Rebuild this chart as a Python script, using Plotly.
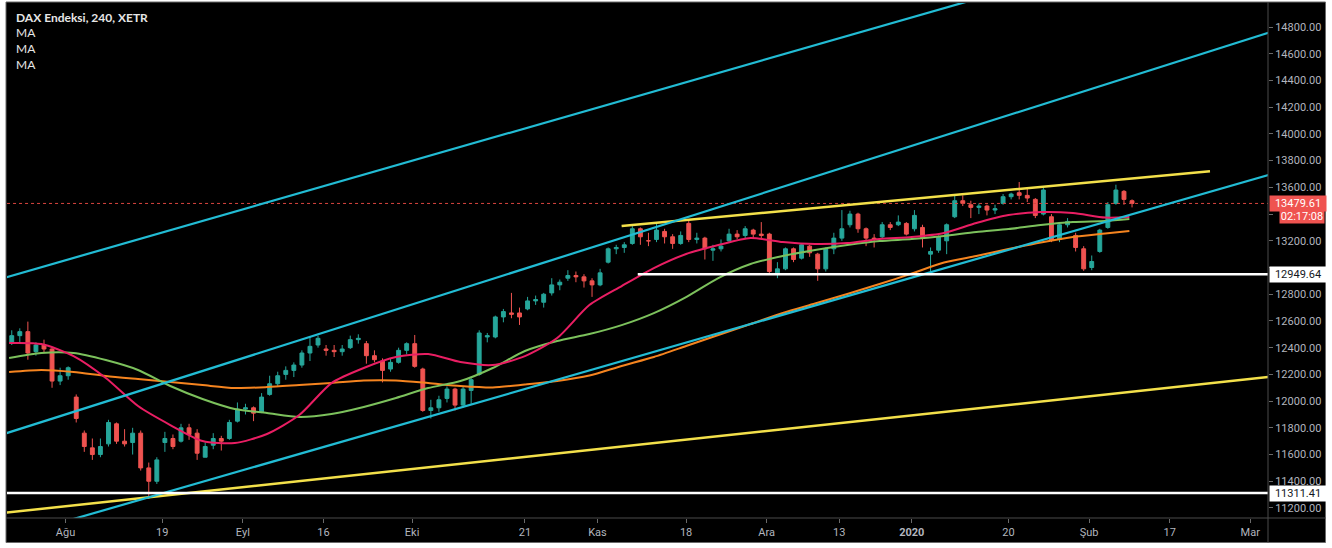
import pandas as pd
import plotly.graph_objects as go

# ------------------------------------------------------------------ data
HOLIDAYS = ["2019-12-24", "2019-12-25", "2019-12-26", "2019-12-31", "2020-01-01"]
FIRST_BAR, LAST_BAR = "2019-07-23", "2020-02-10"

candle_open = [
    12440, 12490, 12520, 12370, 12420, 12390, 12150, 12190, 12030, 11760,
    11650, 11600, 11680, 11830, 11700, 11690, 11760, 11500, 11400, 11690,
    11720, 11700, 11800, 11760, 11580, 11670, 11720, 11720, 11850, 11940,
    11950, 11920, 12050, 12130, 12200, 12230, 12270, 12360, 12420, 12390,
    12380, 12370, 12400, 12460, 12430, 12340, 12300, 12240, 12290, 12380,
    12430, 12240, 11930, 11950, 12020, 12090, 11970, 12080, 12200, 12480,
    12480, 12630, 12660, 12660, 12690, 12750, 12740, 12810, 12870, 12920,
    12940, 12930, 12900, 12870, 13040, 13140, 13150, 13180, 13290, 13200,
    13210, 13270, 13230, 13180, 13330, 13210, 13220, 13130, 13140, 13200,
    13250, 13240, 13280, 13250, 13250, 12960, 12990, 13140, 13070, 13160,
    13100, 12990, 13140, 13220, 13320, 13400, 13290, 13220, 13230, 13320,
    13320, 13330, 13290, 13300, 13100, 13130, 13200, 13380, 13500, 13470,
    13450, 13460, 13430, 13480, 13530, 13560, 13540, 13510, 13400, 13380,
    13210, 13320, 13240, 13140, 13000, 13120, 13300, 13480, 13570, 13500]
candle_high = [
    12530, 12545, 12595, 12440, 12460, 12400, 12250, 12260, 12050, 11780,
    11720, 11720, 11860, 11840, 11790, 11800, 11780, 11540, 11580, 11770,
    11750, 11830, 11830, 11790, 11690, 11760, 11740, 11860, 11990, 11980,
    11960, 12060, 12190, 12220, 12260, 12290, 12380, 12480, 12490, 12420,
    12420, 12420, 12490, 12500, 12450, 12380, 12320, 12320, 12400, 12440,
    12495, 12250, 12010, 12040, 12110, 12100, 12110, 12180, 12530, 12510,
    12640, 12690, 12810, 12700, 12780, 12790, 12810, 12920, 12910, 12980,
    12970, 12950, 12920, 12990, 13150, 13170, 13190, 13310, 13300, 13260,
    13330, 13290, 13250, 13270, 13360, 13260, 13230, 13170, 13210, 13290,
    13280, 13310, 13290, 13340, 13260, 13040, 13150, 13150, 13180, 13170,
    13110, 13150, 13260, 13430, 13425, 13410, 13300, 13250, 13340, 13340,
    13390, 13340, 13430, 13320, 13150, 13240, 13330, 13540, 13540, 13500,
    13480, 13470, 13470, 13550, 13560, 13640, 13590, 13520, 13600, 13400,
    13330, 13370, 13260, 13160, 13090, 13290, 13490, 13620, 13580, 13510]
candle_low = [
    12420, 12440, 12310, 12340, 12360, 12100, 12120, 12160, 11840, 11620,
    11560, 11580, 11660, 11680, 11660, 11600, 11480, 11270, 11380, 11620,
    11640, 11690, 11710, 11560, 11580, 11640, 11630, 11710, 11840, 11900,
    11850, 11910, 12040, 12110, 12160, 12180, 12250, 12300, 12400, 12340,
    12330, 12340, 12390, 12430, 12280, 12290, 12140, 12220, 12280, 12350,
    12250, 11920, 11870, 11920, 11990, 11930, 11950, 11980, 12190, 12440,
    12470, 12590, 12620, 12570, 12680, 12720, 12700, 12790, 12830, 12900,
    12890, 12850, 12780, 12860, 13030, 13100, 13110, 13170, 13170, 13160,
    13190, 13180, 13140, 13170, 13190, 13180, 13060, 13050, 13120, 13190,
    13210, 13220, 13220, 13210, 12950, 12920, 12980, 13040, 13060, 13080,
    12900, 12970, 13100, 13200, 13300, 13260, 13160, 13150, 13220, 13280,
    13310, 13240, 13270, 13150, 12950, 13110, 13100, 13370, 13460, 13370,
    13400, 13390, 13400, 13470, 13510, 13510, 13490, 13370, 13390, 13190,
    13190, 13300, 13120, 12975, 12980, 13110, 13290, 13470, 13470, 13450]
candle_close = [
    12490, 12520, 12360, 12420, 12390, 12150, 12190, 12250, 11870, 11660,
    11600, 11660, 11840, 11700, 11680, 11760, 11500, 11400, 11560, 11720,
    11660, 11800, 11750, 11610, 11660, 11720, 11700, 11840, 11940, 11950,
    11910, 12030, 12130, 12190, 12230, 12270, 12360, 12410, 12470, 12380,
    12370, 12390, 12460, 12470, 12340, 12310, 12230, 12290, 12380, 12430,
    12260, 11930, 11950, 12010, 12090, 11970, 12090, 12160, 12510, 12490,
    12630, 12670, 12650, 12630, 12750, 12760, 12800, 12870, 12890, 12940,
    12930, 12900, 12870, 12960, 13140, 13150, 13170, 13290, 13230, 13200,
    13280, 13230, 13180, 13240, 13210, 13220, 13140, 13140, 13160, 13250,
    13230, 13290, 13250, 13240, 12970, 12990, 13140, 13060, 13170, 13110,
    12990, 13140, 13220, 13290, 13400, 13290, 13220, 13210, 13320, 13300,
    13340, 13250, 13390, 13220, 13120, 13230, 13320, 13500, 13480, 13450,
    13460, 13430, 13440, 13530, 13550, 13540, 13520, 13390, 13580, 13205,
    13320, 13345, 13150, 12990, 13045, 13280, 13470, 13580, 13510, 13479.61]

ma_dates = [
    "2019-07-23", "2019-07-29", "2019-08-02", "2019-08-08", "2019-08-14", "2019-08-20",
    "2019-08-26", "2019-08-30", "2019-09-05", "2019-09-11", "2019-09-17", "2019-09-23",
    "2019-09-27", "2019-10-03", "2019-10-09", "2019-10-15", "2019-10-21", "2019-10-25",
    "2019-10-31", "2019-11-06", "2019-11-12", "2019-11-18", "2019-11-22", "2019-11-28",
    "2019-12-04", "2019-12-10", "2019-12-16", "2019-12-20", "2020-01-02", "2020-01-08",
    "2020-01-14", "2020-01-20", "2020-01-24", "2020-01-30", "2020-02-05", "2020-02-10"]
ma_fast = [
    12435, 12427, 12337, 12173, 11963, 11821, 11701, 11686, 11754, 11896, 12135, 12248,
    12330, 12352, 12292, 12270, 12337, 12472, 12719, 12861, 12996, 13101, 13168, 13221,
    13191, 13176, 13183, 13213, 13228, 13258, 13333, 13393, 13415, 13408, 13374, 13378]
ma_mid = [
    12322, 12360, 12360, 12307, 12233, 12113, 12016, 11941, 11911, 11881, 11903, 11956,
    12023, 12098, 12150, 12248, 12375, 12450, 12502, 12569, 12659, 12779, 12921, 13026,
    13086, 13131, 13168, 13198, 13213, 13236, 13266, 13288, 13318, 13340, 13348, 13363]
ma_slow = [
    12218, 12233, 12218, 12188, 12165, 12143, 12120, 12098, 12105, 12120, 12135, 12154,
    12154, 12135, 12113, 12102, 12124, 12150, 12191, 12263, 12330, 12412, 12495, 12577,
    12659, 12730, 12802, 12876, 12955, 13037, 13086, 13138, 13187, 13228, 13254, 13273]

# drawn lines: (start date, start price, end date, end price)
cyan_lines = [
    ("2019-07-22", 12916, "2020-01-13", 14993),
    ("2019-07-22", 11747, "2020-03-05", 14772),
    ("2019-07-31", 11083, "2020-03-05", 13706),
]
yellow_lines = [
    ("2019-11-06", 13310, "2020-02-24", 13721),
    ("2019-07-22", 11161, "2020-03-05", 12185),
]
level_lines = [("2019-11-08", 12949.64), ("2019-07-22", 11311.41)]
last_price = 13479.61
countdown = "02:17:08"

tick_dates = ["2019-08-01", "2019-08-19", "2019-09-02", "2019-09-16", "2019-10-01",
              "2019-10-21", "2019-11-01", "2019-11-18", "2019-12-02", "2019-12-13",
              "2020-01-02", "2020-01-20", "2020-02-03", "2020-02-17", "2020-03-02"]
tick_text = ["Ağu", "19", "Eyl", "16", "Eki", "21", "Kas", "18", "Ara", "13",
             "<b>2020</b>", "20", "Şub", "17", "Mar"]
price_ticks = [11200, 11400, 11600, 11800, 12000, 12200, 12400, 12600, 12800, 13000,
               13200, 13400, 13600, 13800, 14000, 14200, 14400, 14600, 14800]
hidden_price_ticks = [13000, 13400]  # covered by the price-scale label boxes

# ------------------------------------------------------------------ trading calendar (x scale)
cal = [d.strftime("%Y-%m-%d") for d in pd.bdate_range("2019-07-22", "2020-03-06")]
cal = [d for d in cal if d not in HOLIDAYS]
pos = {d: k for k, d in enumerate(cal)}
bar_dates = [d for d in cal if FIRST_BAR <= d <= LAST_BAR]
assert len(bar_dates) == len(candle_close)
BAR_SHIFT = 0.33  # 240-min bars sit a little right of the day tick

W, H = 1332, 548
L, R, T, B = 7, 64, 3, 30
PW, PH = W - L - R, H - T - B


def fx(px):
    return (px - L) / PW


def fy(py):
    return (H - B - py) / PH


UP, DOWN = "#26a69a", "#ef5350"
CYAN, YELLOW = "#22bcd4", "#f3e04a"
PINK, GREEN, ORANGE = "#e91e63", "#7cc15c", "#f5841f"
AXIS_TXT = "#b2b5be"
GRIDLINE = "#4a4a4a"
FONT = "Roboto"

fig = go.Figure()

fig.add_trace(go.Candlestick(
    x=[pos[d] + BAR_SHIFT for d in bar_dates],
    open=candle_open, high=candle_high, low=candle_low, close=candle_close,
    increasing=dict(line=dict(color=UP, width=1), fillcolor=UP),
    decreasing=dict(line=dict(color=DOWN, width=1), fillcolor=DOWN),
    whiskerwidth=0, showlegend=False, hoverinfo="skip"))

for vals, col in [(ma_slow, ORANGE), (ma_mid, GREEN), (ma_fast, PINK)]:
    fig.add_trace(go.Scatter(
        x=[pos[d] for d in ma_dates], y=vals, mode="lines",
        line=dict(color=col, width=2, shape="spline", smoothing=0.7),
        showlegend=False, hoverinfo="skip"))

# last price dotted line
fig.add_trace(go.Scatter(
    x=[pos[cal[0]], pos[cal[-1]]], y=[last_price, last_price], mode="lines",
    line=dict(color="#d9453f", width=1, dash="dot"), showlegend=False, hoverinfo="skip"))

for d0, v0, d1, v1 in yellow_lines:
    fig.add_trace(go.Scatter(x=[pos[d0], pos[d1]], y=[v0, v1], mode="lines",
                             line=dict(color=YELLOW, width=2.5),
                             showlegend=False, hoverinfo="skip"))
for d0, v0, d1, v1 in cyan_lines:
    fig.add_trace(go.Scatter(x=[pos[d0], pos[d1]], y=[v0, v1], mode="lines",
                             line=dict(color=CYAN, width=2.2),
                             showlegend=False, hoverinfo="skip"))
for d0, v in level_lines:
    fig.add_trace(go.Scatter(x=[pos[d0], pos[cal[-1]]], y=[v, v], mode="lines",
                             line=dict(color="#ffffff", width=2.5),
                             showlegend=False, hoverinfo="skip"))

x0 = pos["2019-08-01"]
shapes = [
    dict(type="rect", xref="paper", yref="paper", x0=fx(6), x1=fx(1325.5),
         y0=fy(542.5), y1=fy(2), fillcolor="#000000",
         line=dict(color="#6a6a6a", width=1), layer="below"),
    dict(type="line", xref="paper", yref="paper", x0=fx(1268), x1=fx(1268),
         y0=fy(542.5), y1=fy(2), line=dict(color=GRIDLINE, width=1)),
    dict(type="line", xref="paper", yref="paper", x0=fx(6), x1=fx(1325.5),
         y0=0, y1=0, line=dict(color=GRIDLINE, width=1)),
]

annotations = [
    dict(xref="paper", yref="paper", x=fx(14), y=fy(17), xanchor="left", yanchor="middle",
         text="<b>DAX Endeksi, 240, XETR</b>", showarrow=False,
         font=dict(family="Lato", size=12, color="#e6e6e6")),
]
for k, yy in enumerate([33, 48.5, 64]):
    annotations.append(dict(xref="paper", yref="paper", x=fx(14), y=fy(yy),
                            xanchor="left", yanchor="middle", text="MA", showarrow=False,
                            font=dict(family="Lato", size=12, color="#e6e6e6")))

# price-scale label boxes
annotations.append(dict(xref="paper", yref="y", x=fx(1268.5), y=last_price,
                        xanchor="left", yanchor="middle", text=f"{last_price:.2f}",
                        showarrow=False, bgcolor=DOWN, width=54, height=13, borderpad=1,
                        font=dict(family=FONT, size=11, color="#ffffff")))
annotations.append(dict(xref="paper", yref="y", x=fx(1325), y=13385,
                        xanchor="right", yanchor="middle", text=countdown,
                        showarrow=False, bgcolor=DOWN, width=42, height=12, borderpad=1,
                        font=dict(family=FONT, size=11, color="#ffffff")))
for _, v in level_lines:
    annotations.append(dict(xref="paper", yref="y", x=fx(1268.5), y=v,
                            xanchor="left", yanchor="middle", text=f"{v:.2f}",
                            showarrow=False, bgcolor="#ffffff", width=54, height=13,
                            borderpad=1, font=dict(family=FONT, size=11, color="#131722")))

fig.update_layout(
    width=W, height=H, margin=dict(l=L, r=R, t=T, b=B),
    paper_bgcolor="#ffffff", plot_bgcolor="#000000",
    showlegend=False, boxgap=0.4, boxgroupgap=0.2,
    shapes=shapes, annotations=annotations,
    xaxis=dict(range=[x0 - 7.26, x0 + 149.2], tickmode="array",
               tickvals=[pos[d] for d in tick_dates], ticktext=tick_text,
               showgrid=False, zeroline=False, showline=False,
               ticks="outside", ticklen=4, tickcolor="#6a6a6a",
               tickfont=dict(family=FONT, size=11, color=AXIS_TXT),
               rangeslider=dict(visible=False), fixedrange=True),
    yaxis=dict(range=[11125, 14980], side="right", tickmode="array",
               tickvals=price_ticks,
               ticktext=["" if v in hidden_price_ticks else f"{v:.2f}" for v in price_ticks],
               showgrid=False, zeroline=False, showline=False,
               ticks="outside", ticklen=4, tickcolor="#6a6a6a",
               tickfont=dict(family=FONT, size=11, color=AXIS_TXT), fixedrange=True),
)

fig.write_html("out.html")
